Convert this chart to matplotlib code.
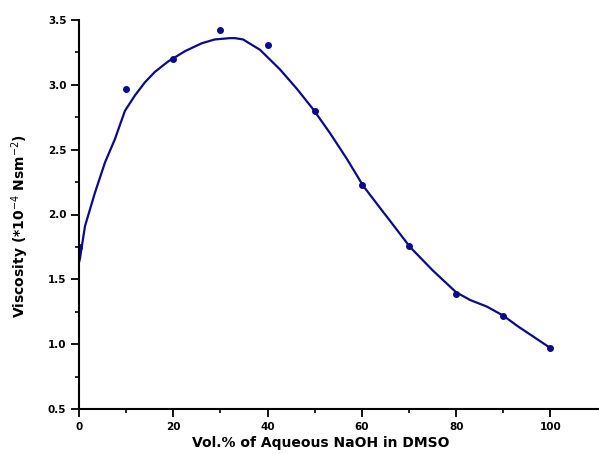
import matplotlib
matplotlib.use("Agg")
import matplotlib.pyplot as plt
from matplotlib.ticker import MultipleLocator, FixedLocator

# measured points
vol_pct = [0, 10, 20, 30, 40, 50, 60, 70, 80, 90, 100]
viscosity = [1.75, 2.97, 3.20, 3.42, 3.31, 2.80, 2.23, 1.76, 1.39, 1.22, 0.97]

# smooth fitted curve
curve_x = [0, 0.2, 1.27, 2.33, 3.4, 5.5, 7.6, 9.75, 11.9, 14, 16.1, 18.9, 22.5, 26,
           28.8, 32, 33.1, 34.8, 38.4, 42.6, 46.2, 49.7, 53.2, 56.8, 60.3, 64.5,
           66, 70.2, 75, 80, 83, 86.5, 90, 93, 96.3, 100]
curve_y = [1.63, 1.66, 1.91, 2.04, 2.17, 2.40, 2.58, 2.80, 2.92, 3.02, 3.10, 3.18,
           3.26, 3.32, 3.35, 3.36, 3.36, 3.35, 3.27, 3.12, 2.97, 2.81, 2.63, 2.43,
           2.22, 2.02, 1.95, 1.75, 1.57, 1.40, 1.34, 1.29, 1.22, 1.14, 1.06, 0.97]

navy = "#0a0a8c"

plt.rcParams['font.family'] = ['DejaVu Sans']

fig = plt.figure(figsize=(5.99, 4.54), dpi=100)
ax = fig.add_axes([79 / 599, 45 / 454, 520 / 599, 389 / 454])

ax.plot(curve_x, curve_y, color=navy, lw=1.6)
ax.plot(vol_pct, viscosity, 'o', color=navy, ms=4)

ax.set_xlim(0, 110.3)
ax.set_ylim(0.5, 3.5)
ax.set_xticks([0, 20, 40, 60, 80, 100])
ax.xaxis.set_minor_locator(FixedLocator([10, 30, 50, 70, 90]))
ax.yaxis.set_major_locator(MultipleLocator(0.5))
ax.yaxis.set_minor_locator(MultipleLocator(0.25))

for side in ['top', 'right']:
    ax.spines[side].set_visible(False)
for side in ['left', 'bottom']:
    ax.spines[side].set_linewidth(1.5)
ax.tick_params(which='major', length=6, width=1.3, labelsize=7.5, pad=3)
ax.tick_params(which='minor', length=3, width=1.2)
for lbl in ax.get_xticklabels() + ax.get_yticklabels():
    lbl.set_fontweight('bold')

ax.set_xlabel("Vol.% of Aqueous NaOH in DMSO", fontsize=10, fontweight='bold',
              va='center')
ax.xaxis.set_label_coords(0.465, -0.087)
ax.set_ylabel(r"Viscosity (*10$^{-4}$ Nsm$^{-2}$)", fontsize=10, fontweight='bold')
ax.yaxis.set_label_coords(-0.092, 0.47)

fig.savefig("out.png", dpi=100)
